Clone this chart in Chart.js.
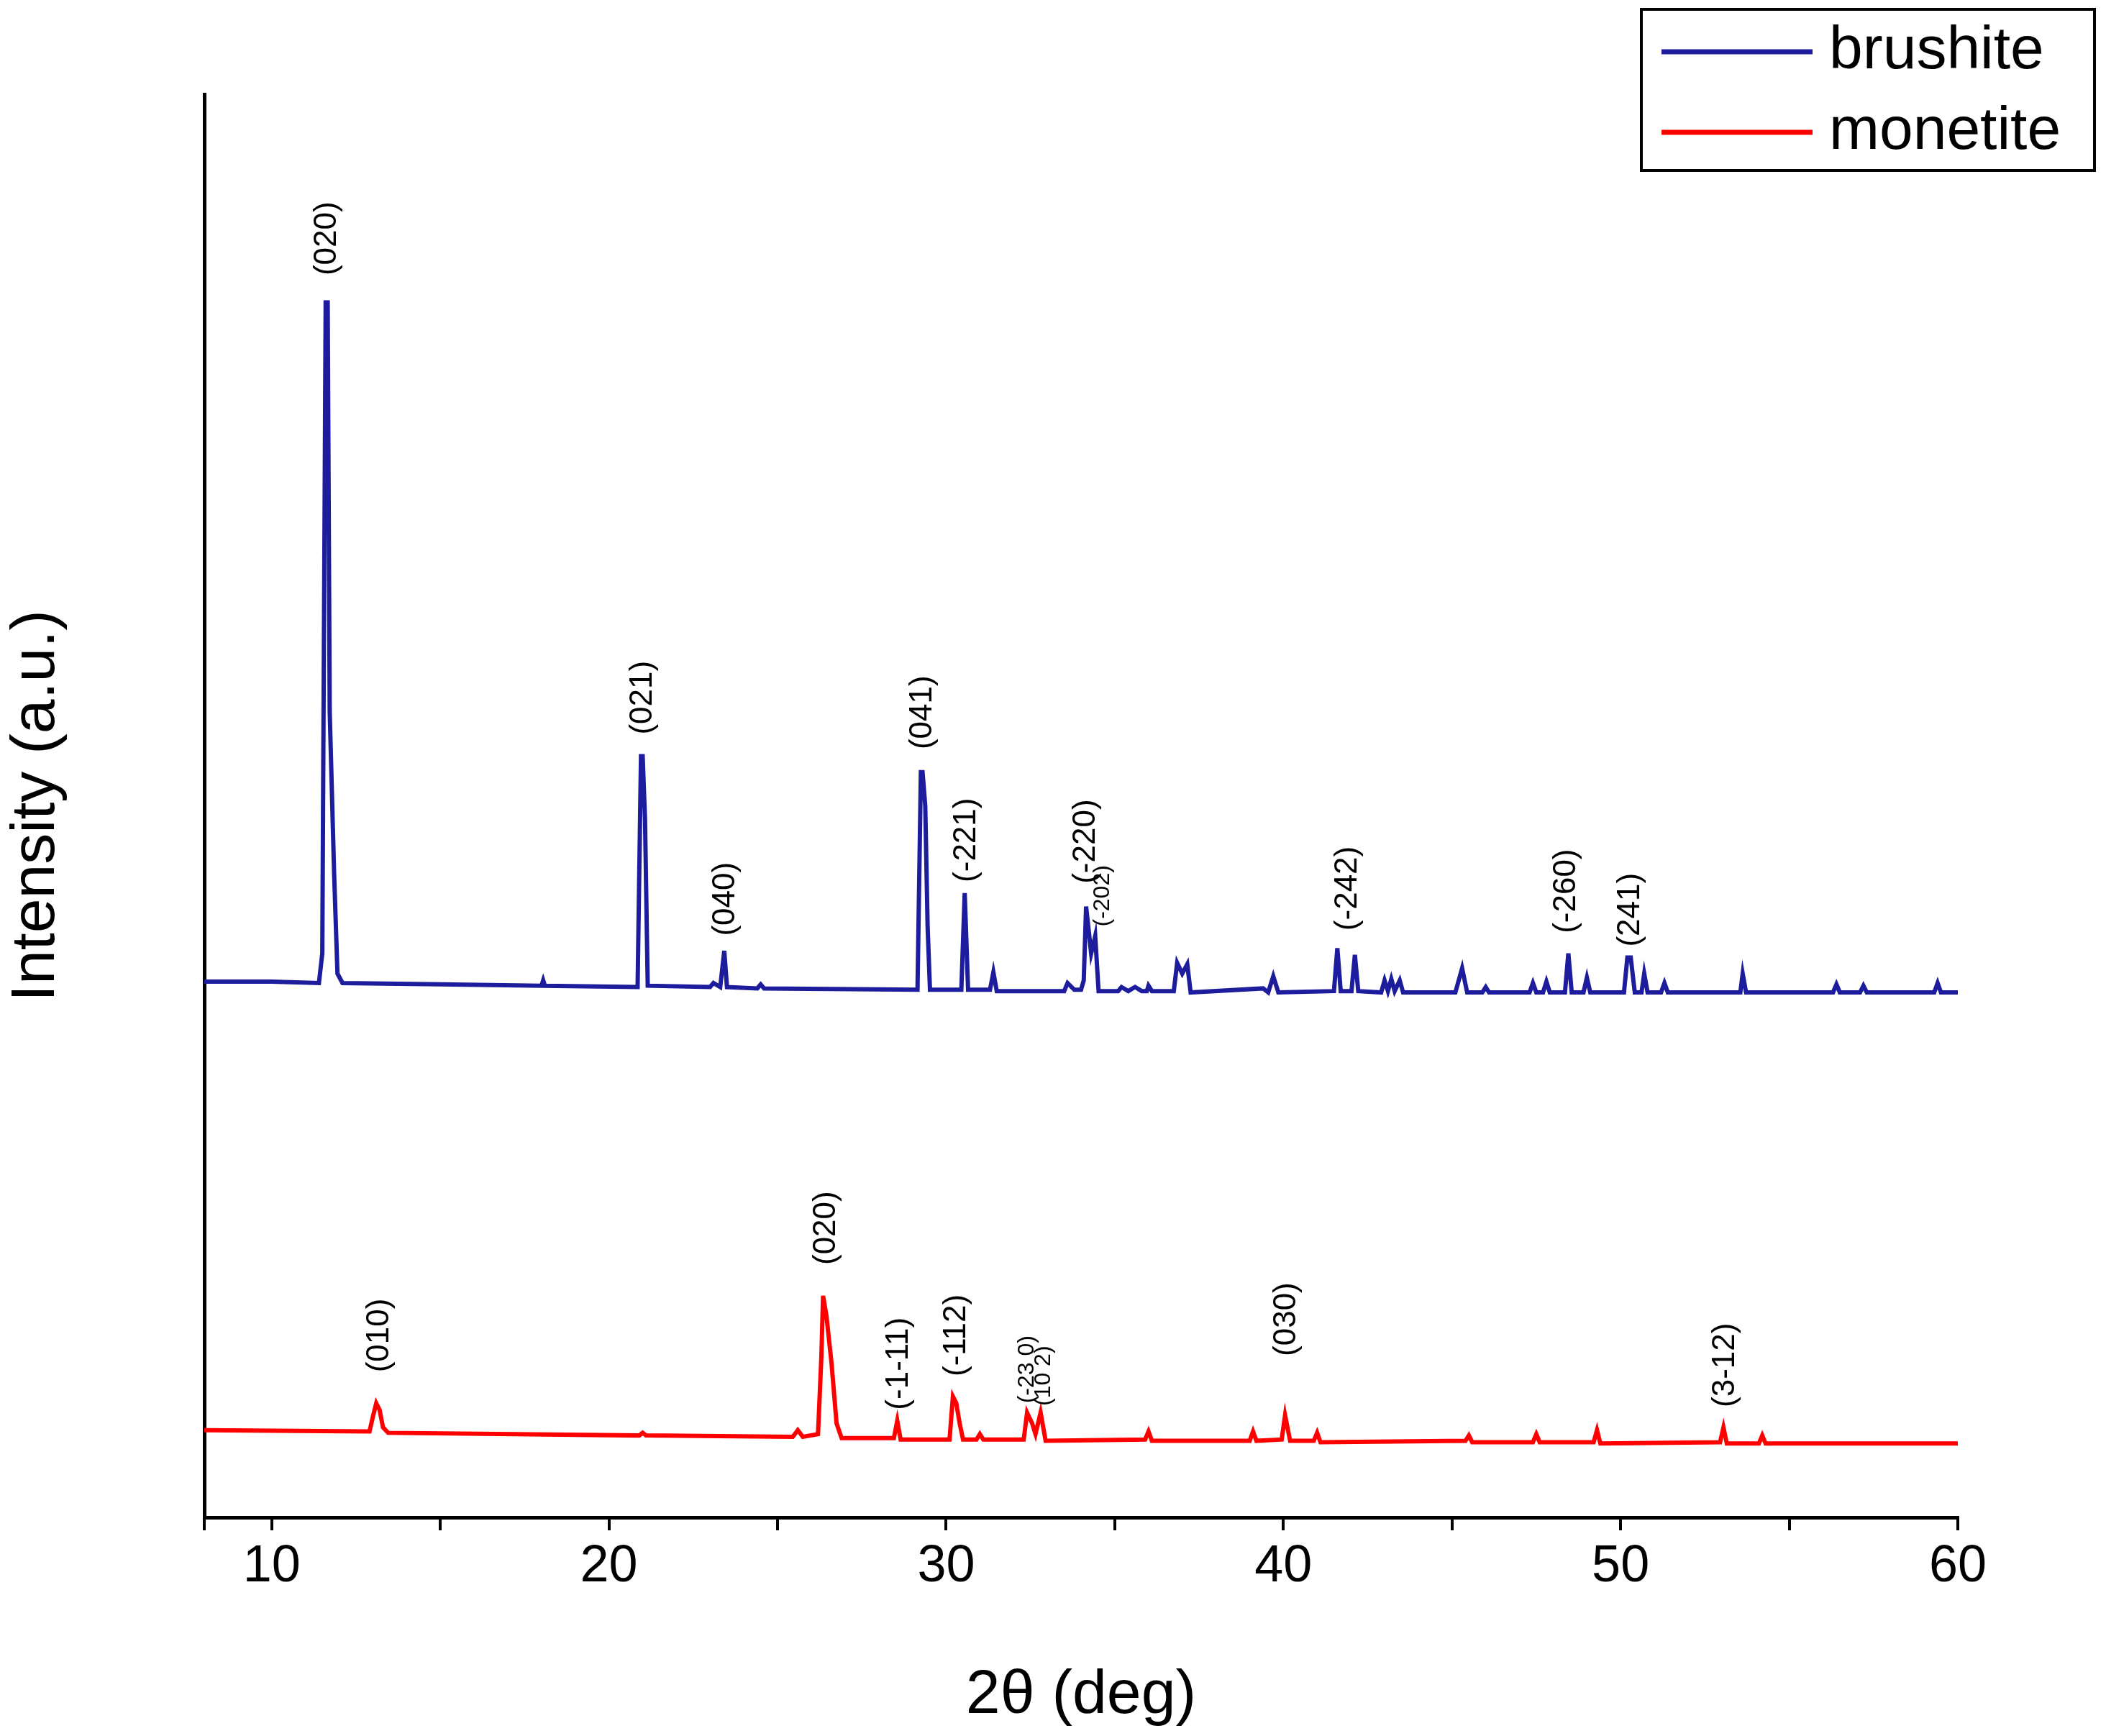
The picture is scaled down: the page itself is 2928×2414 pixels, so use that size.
<!DOCTYPE html>
<html>
<head>
<meta charset="utf-8">
<script src="https://cdn.jsdelivr.net/npm/chart.js@4.4.1/dist/chart.umd.min.js"></script>
<style>
  html, body { margin: 0; padding: 0; background: #fff; }
  #wrap { width: 2928px; height: 2414px; }
</style>
</head>
<body>
<div id="wrap"><canvas id="xrd" width="2928" height="2414"></canvas></div>
<script>
// 2theta / intensity pairs (arbitrary units)
const brushite = [
  [8,399],[10,399],[11.4,398],[11.5,420],[11.6,905],[11.66,905],[11.72,600],[11.85,480],[11.95,405],[12.1,398],
  [15,397],[18,396],[18.05,400],[18.1,396],[20.85,395],[20.95,567],[21.0,567],[21.07,520],[21.15,396],
  [23.0,395],[23.1,398],[23.3,395],[23.42,422],[23.5,395],[24.4,394],[24.5,397],[24.6,394],
  [29.15,393],[29.25,555],[29.3,555],[29.38,530],[29.45,440],[29.52,393],[30.45,393],[30.55,465],[30.65,393],
  [31.3,393],[31.4,406],[31.5,392],[33.5,392],[33.6,398],[33.8,393],[34.0,393],[34.08,400],[34.15,455],
  [34.3,420],[34.42,433],[34.52,392],[35.1,392],[35.2,395],[35.4,392],[35.6,395],[35.8,392],[35.95,392],[36,396],[36.1,392],
  [36.75,392],[36.85,413],[37.0,405],[37.15,412],[37.25,391],[39.4,394],[39.55,391],[39.7,403],[39.85,391],
  [41.5,392],[41.6,424],[41.7,392],[42.02,392],[42.12,419],[42.22,392],[42.9,391],[43.0,400],[43.1,392],[43.2,401],[43.3,392],
  [43.45,400],[43.55,391],[45.1,391],[45.3,409],[45.45,391],[45.9,391],[46,395],[46.1,391],
  [47.3,391],[47.4,398],[47.5,391],[47.7,391],[47.8,399],[47.9,391],[48.35,391],[48.45,420],[48.55,391],[48.9,391],[49.0,402],[49.1,391],
  [50.1,391],[50.2,417],[50.3,417],[50.42,391],[50.62,391],[50.7,405],[50.8,391],[51.2,391],[51.3,398],[51.4,391],
  [53.55,391],[53.62,405],[53.72,391],[56.3,391],[56.4,397],[56.5,391],[57.1,391],[57.2,396],[57.3,391],
  [59.3,391],[59.4,398],[59.5,391],[60,391]
];
const monetite = [
  [8,65],[12.9,64],[13.0,75],[13.1,85],[13.2,80],[13.3,67],[13.45,63],[20.9,61],[21,63],[21.1,61],
  [25.45,60],[25.6,65],[25.75,60],[26.2,62],[26.3,120],[26.35,165],[26.45,150],[26.6,115],[26.75,70],[26.9,59],
  [28.45,59],[28.55,72],[28.65,58],[30.1,58],[30.2,90],[30.3,85],[30.4,70],[30.5,58],[30.9,58],[31.0,62],[31.1,58],
  [32.3,58],[32.4,78],[32.55,70],[32.65,62],[32.8,78],[32.95,57],[35.9,58],[36.0,64],[36.1,57],
  [39.0,57],[39.1,64],[39.2,57],[39.95,58],[40.05,76],[40.2,57],[40.9,57],[41,63],[41.1,56],
  [45.4,57],[45.5,61],[45.6,56],[47.4,56],[47.5,62],[47.6,56],[49.2,56],[49.3,65],[49.4,55],
  [52.95,56],[53.05,67],[53.15,55],[54.1,55],[54.2,61],[54.3,55],[60,55]
];
// peak labels: [2theta, intensity at label foot, text, small font?]
const brushiteLabels = [
  [11.65,925,'(020)',0],[21.0,583,'(021)',0],[23.45,433,'(040)',0],[29.3,572,'(041)',0],
  [30.6,473,'(-221)',0],[34.15,472,'(-220)',0],[34.65,440,'(-202)',1],[41.9,437,'(-242)',0],
  [48.4,435,'(-260)',0],[50.3,425,'(241)',0]
];
const monetiteLabels = [
  [13.2,108,'(010)',0],[26.45,188,'(020)',0],[28.6,80,'(-1-11)',0],[30.3,105,'(-112)',0],
  [32.4,85,'(-23 0)',1],[32.9,83,'(10 2)',1],[40.1,120,'(030)',0],[53.1,82,'(3-12)',0]
];
const seriesNames = ['brushite', 'monetite'];
const seriesColors = ['#1c1c9c', '#ff0000'];

const toXY = arr => arr.map(p => ({x: p[0], y: p[1]}));

const peakLabels = {
  id: 'peakLabels',
  afterDatasetsDraw(chart) {
    const ctx = chart.ctx, xs = chart.scales.x, ys = chart.scales.y;
    [brushiteLabels, monetiteLabels].forEach(list => {
      list.forEach(l => {
        ctx.save();
        ctx.translate(xs.getPixelForValue(l[0]), ys.getPixelForValue(l[1]));
        ctx.rotate(-Math.PI / 2);
        ctx.font = (l[3] ? 32 : 44) + 'px Arial, "Liberation Sans"';
        ctx.fillStyle = '#000';
        ctx.textAlign = 'left';
        ctx.textBaseline = 'middle';
        ctx.fillText(l[2], 0, 0);
        ctx.restore();
      });
    });
    // legend box
    ctx.save();
    ctx.strokeStyle = '#000';
    ctx.lineWidth = 4;
    ctx.strokeRect(2282, 13, 630, 224);
    ctx.font = '84px Arial, "Liberation Sans"';
    ctx.textBaseline = 'middle';
    seriesNames.forEach((n, i) => {
      const y = 72 + i * 112;
      ctx.strokeStyle = seriesColors[i];
      ctx.lineWidth = 7;
      ctx.beginPath(); ctx.moveTo(2310, y); ctx.lineTo(2520, y); ctx.stroke();
      ctx.fillStyle = '#000';
      ctx.fillText(n, 2543, y);
    });
    ctx.restore();
  }
};

new Chart(document.getElementById('xrd').getContext('2d'), {
  type: 'line',
  data: {
    datasets: [
      { label: seriesNames[0], data: toXY(brushite), borderColor: seriesColors[0], borderWidth: 6, pointRadius: 0, tension: 0 },
      { label: seriesNames[1], data: toXY(monetite), borderColor: seriesColors[1], borderWidth: 6, pointRadius: 0, tension: 0 }
    ]
  },
  plugins: [peakLabels],
  options: {
    responsive: false,
    animation: false,
    layout: { padding: { top: 131, right: 206, left: 0, bottom: 0 } },
    plugins: { legend: { display: false }, tooltip: { enabled: false } },
    scales: {
      x: {
        type: 'linear', min: 8, max: 60,
        border: { color: '#000', width: 5 },
        grid: { drawOnChartArea: false, color: '#000', lineWidth: 4, tickLength: 18 },
        ticks: {
          stepSize: 5, color: '#000', padding: 8,
          font: { size: 72, family: 'Arial, "Liberation Sans"' },
          callback: v => v % 10 === 0 ? v : ''
        },
        title: { display: true, text: '2θ (deg)', color: '#000', padding: { top: 50 },
                 font: { size: 86, family: 'Arial, "Liberation Sans"' } },
        afterFit(s) { s.height = 304; }
      },
      y: {
        min: 0, max: 1060,
        border: { color: '#000', width: 5 },
        grid: { display: false },
        ticks: { display: false },
        title: { display: true, text: 'Intensity (a.u.)', color: '#000', padding: 0,
                 font: { size: 86, family: 'Arial, "Liberation Sans"' } },
        afterFit(s) { s.width = 284; }
      }
    }
  }
});
</script>
</body>
</html>
